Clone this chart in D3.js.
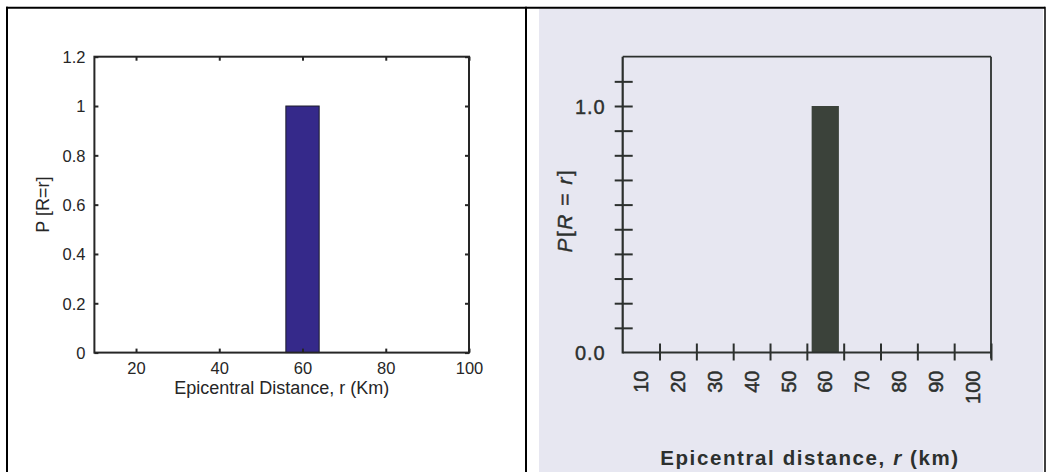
<!DOCTYPE html>
<html>
<head>
<meta charset="utf-8">
<script src="https://cdn.jsdelivr.net/npm/d3@7"></script>
<style>
  html, body { margin: 0; padding: 0; background: #ffffff; }
  svg { display: block; }
</style>
</head>
<body>
<svg id="chart" width="1049" height="472"></svg>
<script>
// ---------- DATA ----------
const distances = [10, 20, 30, 40, 50, 60, 70, 80, 90, 100];
const probabilities = [0, 0, 0, 0, 0, 1, 0, 0, 0, 0];
const leftXTicks = [20, 40, 60, 80, 100];
const leftYTicks = [0, 0.2, 0.4, 0.6, 0.8, 1.0, 1.2];
const rightYMinorTicks = [0.1, 0.2, 0.3, 0.4, 0.5, 0.6, 0.7, 0.8, 0.9, 1.0, 1.1];
const rightYLabelTicks = [0.0, 1.0];
const rightXBoundaries = [15, 25, 35, 45, 55, 65, 75, 85, 95, 105];
const leftXLabel = "Epicentral Distance, r (Km)";
const leftYLabel = "P [R=r]";

const data = distances.map((d, i) => ({ r: d, p: probabilities[i] }));

const svg = d3.select("#chart");

// ---------- FRAME ----------
svg.append("rect").attr("x", 539).attr("y", 8.7).attr("width", 504).attr("height", 464).attr("fill", "#e7e7f1");
const frame = svg.append("g").attr("stroke", "#000").attr("stroke-width", 2);
frame.append("line").attr("x1", 6).attr("x2", 1045).attr("y1", 7.7).attr("y2", 7.7);
frame.append("line").attr("x1", 7).attr("x2", 7).attr("y1", 6.7).attr("y2", 472);
frame.append("line").attr("x1", 526).attr("x2", 526).attr("y1", 6.7).attr("y2", 472);
frame.append("line").attr("x1", 1045).attr("x2", 1045).attr("y1", 6.7).attr("y2", 472).attr("stroke-width", 1.5);

// ---------- LEFT CHART (MATLAB style) ----------
const L = { left: 94.4, right: 469, top: 56.7, bottom: 352.6 };
const lx = d3.scaleLinear().domain([10, 100]).range([L.left, L.right]);
const ly = d3.scaleLinear().domain([0, 1.2]).range([L.bottom, L.top]);
const lcol = "#262626";
const lg = svg.append("g").style("font-family", "'Liberation Sans', Arial, sans-serif");

const barW = 8;
lg.append("g").selectAll("rect").data(data.filter(d => d.p > 0)).join("rect")
  .attr("x", d => lx(d.r - barW / 2))
  .attr("width", d => lx(d.r + barW / 2) - lx(d.r - barW / 2))
  .attr("y", d => ly(d.p))
  .attr("height", d => ly(0) - ly(d.p))
  .attr("fill", "#35298a")
  .attr("stroke", "#1c1c2a")
  .attr("stroke-width", 1);

const tl = 4;
const lxAxis = lg.append("g").attr("transform", `translate(0,${L.bottom})`)
  .call(d3.axisBottom(lx).tickValues(leftXTicks).tickSize(-tl).tickPadding(10).tickFormat(d3.format("d")));
const lxTop = lg.append("g").attr("transform", `translate(0,${L.top})`)
  .call(d3.axisTop(lx).tickValues(leftXTicks).tickSize(-tl).tickFormat(""));
const lyAxis = lg.append("g").attr("transform", `translate(${L.left},0)`)
  .call(d3.axisLeft(ly).tickValues(leftYTicks).tickSize(-tl).tickPadding(9).tickFormat(d => d === 0 ? "0" : d3.format("~g")(d)));
const lyRight = lg.append("g").attr("transform", `translate(${L.right},0)`)
  .call(d3.axisRight(ly).tickValues(leftYTicks).tickSize(-tl).tickFormat(""));

[lxAxis, lxTop, lyAxis, lyRight].forEach(a => {
  a.select(".domain").remove();
  a.selectAll(".tick line").attr("stroke", lcol).attr("stroke-width", 2);
  a.selectAll(".tick text").attr("fill", lcol).style("font-size", "16.5px").style("font-family", "'Liberation Sans', Arial, sans-serif");
});
lyAxis.selectAll(".tick text").attr("dy", "0.35em");

lg.append("rect").attr("x", L.left).attr("y", L.top)
  .attr("width", L.right - L.left).attr("height", L.bottom - L.top)
  .attr("fill", "none").attr("stroke", lcol).attr("stroke-width", 2);

lg.append("text").attr("x", (L.left + L.right) / 2).attr("y", 394)
  .attr("text-anchor", "middle").attr("fill", lcol).style("font-size", "18px")
  .text(leftXLabel);
lg.append("text").attr("transform", `translate(49,${(L.top + L.bottom) / 2}) rotate(-90)`)
  .attr("text-anchor", "middle").attr("fill", lcol).style("font-size", "18px")
  .text(leftYLabel);

// ---------- RIGHT CHART (scanned textbook style) ----------
const R = { left: 622.7, right: 991, top: 56.7, bottom: 352.5 };
const rcol = "#2c302e";
const rg = svg.append("g").style("font-family", "'Liberation Sans', Arial, sans-serif");
const rb = d3.scaleBand().domain(distances).range([R.left, R.right]).paddingInner(0.26).paddingOuter(0.13);
const rxLin = d3.scaleLinear().domain([5, 105]).range([R.left, R.right]);
const ry = d3.scaleLinear().domain([0, 1.2]).range([R.bottom, R.top]);

rg.append("g").selectAll("rect").data(data.filter(d => d.p > 0)).join("rect")
  .attr("x", d => rb(d.r))
  .attr("width", rb.bandwidth())
  .attr("y", d => ry(d.p))
  .attr("height", d => ry(0) - ry(d.p))
  .attr("fill", "#3b423a");

rg.append("line").attr("x1", R.left).attr("x2", R.right).attr("y1", R.top).attr("y2", R.top)
  .attr("stroke", rcol).attr("stroke-width", 1.8);
rg.append("line").attr("x1", R.right).attr("x2", R.right).attr("y1", R.top).attr("y2", R.bottom + 6)
  .attr("stroke", rcol).attr("stroke-width", 1.8);

const rxTicks = rg.append("g").attr("transform", `translate(0,${R.bottom})`)
  .call(d3.axisBottom(rxLin).tickValues(rightXBoundaries).tickSize(8).tickFormat(""));
rxTicks.select(".domain").remove();
rxTicks.selectAll(".tick line").attr("y1", -9).attr("y2", 8).attr("stroke", rcol).attr("stroke-width", 2);

const rxLabels = rg.append("g").attr("transform", `translate(0,${R.bottom})`)
  .call(d3.axisBottom(rb).tickSize(0).tickPadding(0));
rxLabels.select(".domain").remove();
rxLabels.selectAll(".tick text")
  .attr("transform", "translate(0,18) rotate(-90)")
  .attr("text-anchor", "end").attr("dy", "0.36em").attr("y", 0).attr("x", 0)
  .attr("fill", rcol).attr("stroke", rcol).attr("stroke-width", 0.5)
  .style("font-size", "20px").style("font-family", "'Liberation Sans', Arial, sans-serif");

const ryTicks = rg.append("g").attr("transform", `translate(${R.left},0)`)
  .call(d3.axisLeft(ry).tickValues(rightYMinorTicks).tickSize(8).tickFormat(""));
ryTicks.select(".domain").remove();
ryTicks.selectAll(".tick line").attr("x1", 10).attr("x2", -8).attr("stroke", rcol).attr("stroke-width", 2);

const ryLabels = rg.append("g").attr("transform", `translate(${R.left},0)`)
  .call(d3.axisLeft(ry).tickValues(rightYLabelTicks).tickSize(0).tickPadding(17).tickFormat(d3.format(".1f")));
ryLabels.select(".domain").remove();
ryLabels.selectAll(".tick text").attr("fill", rcol).attr("stroke", rcol).attr("stroke-width", 0.4).attr("dy", "0.35em")
  .style("font-size", "20px").style("letter-spacing", "1px").style("font-family", "'Liberation Sans', Arial, sans-serif");

rg.append("line").attr("x1", R.left).attr("x2", R.left).attr("y1", R.top).attr("y2", R.bottom + 1)
  .attr("stroke", rcol).attr("stroke-width", 2.2);
rg.append("line").attr("x1", R.left).attr("x2", R.right).attr("y1", R.bottom).attr("y2", R.bottom)
  .attr("stroke", rcol).attr("stroke-width", 2.2);

const yt = rg.append("text").attr("transform", `translate(565,${(R.top + R.bottom) / 2 + 6}) rotate(-90)`)
  .attr("text-anchor", "middle").attr("dy", "0.35em").attr("fill", rcol).attr("stroke", rcol).attr("stroke-width", 0.4)
  .style("font-size", "21px").style("letter-spacing", "1.5px");
yt.append("tspan").style("font-style", "italic").text("P");
yt.append("tspan").text("[");
yt.append("tspan").style("font-style", "italic").text("R");
yt.append("tspan").text(" = ");
yt.append("tspan").style("font-style", "italic").text("r");
yt.append("tspan").text("]");

const xt = rg.append("text").attr("x", 810).attr("y", 465)
  .attr("text-anchor", "middle").attr("fill", rcol)
  .style("font-size", "20.5px").style("font-weight", "bold").style("letter-spacing", "1.6px");
xt.append("tspan").text("Epicentral distance, ");
xt.append("tspan").style("font-style", "italic").text("r");
xt.append("tspan").text(" (km)");
</script>
</body>
</html>
